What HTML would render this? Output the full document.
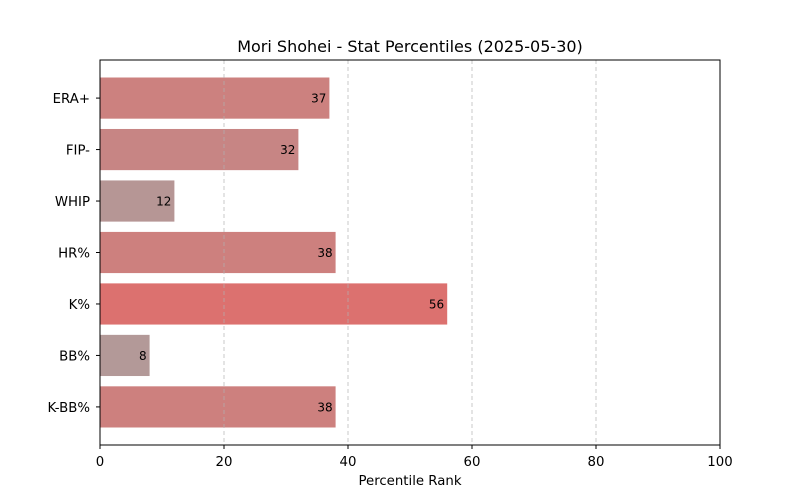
<!DOCTYPE html>
<html><head><meta charset="utf-8"><style>
body{margin:0;background:#fff;}
svg{display:block;font-family:"DejaVu Sans","Liberation Sans",sans-serif;}
</style></head><body>
<svg id="chart" width="800" height="500">
<text x="410" y="52" text-anchor="middle" font-size="16">Mori Shohei - Stat Percentiles (2025-05-30)</text>
<g id="bars"></g><g id="grid"></g><g id="axes"></g>
<text x="410" y="485" text-anchor="middle" font-size="13.3">Percentile Rank</text>
</svg>
<script>
const categories = ["ERA+","FIP-","WHIP","HR%","K%","BB%","K-BB%"];
const values = [37,32,12,38,56,8,38];
const xTicks = [0,20,40,60,80,100];
const NS="http://www.w3.org/2000/svg";
const L=100,R=720,T=60,B=445;
const xs=v=>L+(R-L)*v/100;
const step=(B-T)/7.48;
const yc=i=>T+step*(0.74+i);
const bh=step*0.8;
function mk(tag,attrs,parent,text){const e=document.createElementNS(NS,tag);for(const k in attrs)e.setAttribute(k,attrs[k]);if(text!==undefined)e.textContent=text;document.getElementById(parent).appendChild(e);return e;}
function col(v){const t=Math.min(1,v/56);const a=[172,160,159],b=[220,113,111];return "rgb("+a.map((c,i)=>Math.round(c+(b[i]-c)*t)).join(",")+")";}
categories.forEach((c,i)=>{
  const r=mk("rect",{x:L,y:yc(i)-bh/2,width:xs(values[i])-L,height:bh,fill:col(values[i])},"bars");
  
  
  const v=mk("text",{x:xs(values[i])-3,y:yc(i)+4.5,"text-anchor":"end","font-size":12},"bars",String(values[i]));
  
  
  const tk=mk("line",{x1:L-4,x2:L,y1:yc(i),y2:yc(i),stroke:"#000"},"axes");
  
  
  const lb=mk("text",{x:L-10,y:yc(i)+5,"text-anchor":"end","font-size":13.3},"axes",c);
  
  
});
xTicks.forEach(t=>{
  if(t>0&&t<100){const g=mk("line",{x1:xs(t),x2:xs(t),y1:T,y2:B,stroke:"#b0b0b0","stroke-opacity":0.7,"stroke-width":1,"stroke-dasharray":"4,3"},"grid");
  
  }
  const tk=mk("line",{x1:xs(t),x2:xs(t),y1:B,y2:B+4,stroke:"#000"},"axes");
  
  
  const lb=mk("text",{x:xs(t),y:B+21,"text-anchor":"middle","font-size":13.3},"axes",String(t));
  
  
});
const f=mk("rect",{x:L,y:T,width:R-L,height:B-T,fill:"none",stroke:"#000","stroke-width":1},"axes");


</script>
</body></html>
